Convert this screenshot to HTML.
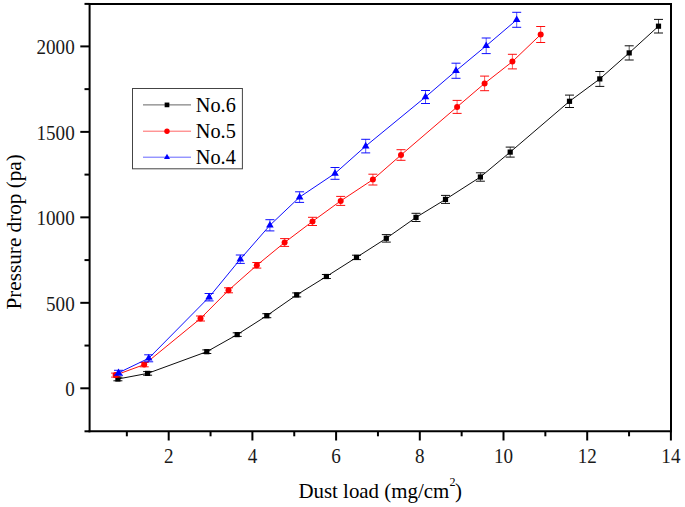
<!DOCTYPE html>
<html><head><meta charset="utf-8"><style>
html,body{margin:0;padding:0;background:#fff;}
body{width:685px;height:507px;overflow:hidden;font-family:"Liberation Serif",serif;}
svg{display:block;}
</style></head><body>
<svg width="685" height="507" viewBox="0 0 685 507">
<rect width="685" height="507" fill="#fff"/>
<g stroke="#000" stroke-width="2.0" fill="none" stroke-linecap="butt">
<line x1="89.6" y1="2.9" x2="89.6" y2="432.3"/>
<line x1="671.0" y1="2.9" x2="671.0" y2="432.3"/>
<line x1="88.6" y1="3.9" x2="672.0" y2="3.9"/>
<line x1="88.6" y1="431.3" x2="672.0" y2="431.3"/>
<line x1="84.50" y1="431.30" x2="89.6" y2="431.30"/>
<line x1="80.30" y1="388.30" x2="89.6" y2="388.30"/>
<line x1="84.50" y1="345.56" x2="89.6" y2="345.56"/>
<line x1="80.30" y1="302.83" x2="89.6" y2="302.83"/>
<line x1="84.50" y1="260.09" x2="89.6" y2="260.09"/>
<line x1="80.30" y1="217.35" x2="89.6" y2="217.35"/>
<line x1="84.50" y1="174.61" x2="89.6" y2="174.61"/>
<line x1="80.30" y1="131.88" x2="89.6" y2="131.88"/>
<line x1="84.50" y1="89.14" x2="89.6" y2="89.14"/>
<line x1="80.30" y1="46.40" x2="89.6" y2="46.40"/>
<line x1="84.50" y1="3.90" x2="89.6" y2="3.90"/>
<line x1="126.85" y1="431.3" x2="126.85" y2="436.30"/>
<line x1="168.70" y1="431.3" x2="168.70" y2="440.50"/>
<line x1="210.55" y1="431.3" x2="210.55" y2="436.30"/>
<line x1="252.40" y1="431.3" x2="252.40" y2="440.50"/>
<line x1="294.25" y1="431.3" x2="294.25" y2="436.30"/>
<line x1="336.10" y1="431.3" x2="336.10" y2="440.50"/>
<line x1="377.95" y1="431.3" x2="377.95" y2="436.30"/>
<line x1="419.80" y1="431.3" x2="419.80" y2="440.50"/>
<line x1="461.65" y1="431.3" x2="461.65" y2="436.30"/>
<line x1="503.50" y1="431.3" x2="503.50" y2="440.50"/>
<line x1="545.35" y1="431.3" x2="545.35" y2="436.30"/>
<line x1="587.20" y1="431.3" x2="587.20" y2="440.50"/>
<line x1="629.05" y1="431.3" x2="629.05" y2="436.30"/>
<line x1="670.90" y1="431.3" x2="670.90" y2="440.50"/>
</g>
<g font-family="Liberation Serif" font-size="19.9" fill="#1a1a1a">
<text transform="translate(74.7,396.20) scale(0.96,1)" text-anchor="end">0</text>
<text transform="translate(74.7,310.73) scale(0.96,1)" text-anchor="end">500</text>
<text transform="translate(74.7,225.25) scale(0.96,1)" text-anchor="end">1000</text>
<text transform="translate(74.7,139.78) scale(0.96,1)" text-anchor="end">1500</text>
<text transform="translate(74.7,54.30) scale(0.96,1)" text-anchor="end">2000</text>
<text transform="translate(168.70,462.7) scale(0.96,1)" text-anchor="middle">2</text>
<text transform="translate(252.40,462.7) scale(0.96,1)" text-anchor="middle">4</text>
<text transform="translate(336.10,462.7) scale(0.96,1)" text-anchor="middle">6</text>
<text transform="translate(419.80,462.7) scale(0.96,1)" text-anchor="middle">8</text>
<text transform="translate(503.50,462.7) scale(0.96,1)" text-anchor="middle">10</text>
<text transform="translate(587.20,462.7) scale(0.96,1)" text-anchor="middle">12</text>
<text transform="translate(670.90,462.7) scale(0.96,1)" text-anchor="middle">14</text>
</g>
<g font-family="Liberation Serif" font-size="21.2" fill="#000">
<text transform="translate(21.1,309.5) rotate(-90)">Pressure drop (pa)</text>
<text x="298.4" y="497.7" font-size="20.9">Dust load (mg/cm<tspan font-size="12" dy="-12.1" dx="0.3">2</tspan><tspan dy="12.1" dx="-0.5">)</tspan></text>
</g>
<path d="M117.9,379.0 L147.6,373.4 L206.8,351.7 L237.2,334.6 L266.8,315.7 L296.7,294.9 L326.4,276.5 L356.5,257.4 L386.3,238.3 L416.0,217.4 L445.5,199.4 L480.4,177.0 L510.2,152.1 L569.5,101.3 L599.8,78.9 L629.2,52.9 L658.5,26.2" fill="none" stroke="#000" stroke-width="0.95"/>
<g stroke="#000" stroke-width="0.95">
<line x1="117.9" y1="377.2" x2="117.9" y2="380.8" stroke-opacity="0.7"/>
<line x1="113.4" y1="377.2" x2="122.4" y2="377.2"/>
<line x1="113.4" y1="380.8" x2="122.4" y2="380.8"/>
<line x1="147.6" y1="371.6" x2="147.6" y2="375.2" stroke-opacity="0.7"/>
<line x1="143.1" y1="371.6" x2="152.1" y2="371.6"/>
<line x1="143.1" y1="375.2" x2="152.1" y2="375.2"/>
<line x1="206.8" y1="349.9" x2="206.8" y2="353.5" stroke-opacity="0.7"/>
<line x1="202.3" y1="349.9" x2="211.3" y2="349.9"/>
<line x1="202.3" y1="353.5" x2="211.3" y2="353.5"/>
<line x1="237.2" y1="332.8" x2="237.2" y2="336.4" stroke-opacity="0.7"/>
<line x1="232.7" y1="332.8" x2="241.7" y2="332.8"/>
<line x1="232.7" y1="336.4" x2="241.7" y2="336.4"/>
<line x1="266.8" y1="313.7" x2="266.8" y2="317.7" stroke-opacity="0.7"/>
<line x1="262.3" y1="313.7" x2="271.3" y2="313.7"/>
<line x1="262.3" y1="317.7" x2="271.3" y2="317.7"/>
<line x1="296.7" y1="292.9" x2="296.7" y2="296.9" stroke-opacity="0.7"/>
<line x1="292.2" y1="292.9" x2="301.2" y2="292.9"/>
<line x1="292.2" y1="296.9" x2="301.2" y2="296.9"/>
<line x1="326.4" y1="274.5" x2="326.4" y2="278.5" stroke-opacity="0.7"/>
<line x1="321.9" y1="274.5" x2="330.9" y2="274.5"/>
<line x1="321.9" y1="278.5" x2="330.9" y2="278.5"/>
<line x1="356.5" y1="255.2" x2="356.5" y2="259.6" stroke-opacity="0.7"/>
<line x1="352.0" y1="255.2" x2="361.0" y2="255.2"/>
<line x1="352.0" y1="259.6" x2="361.0" y2="259.6"/>
<line x1="386.3" y1="234.6" x2="386.3" y2="242.1" stroke-opacity="0.7"/>
<line x1="381.8" y1="234.6" x2="390.8" y2="234.6"/>
<line x1="381.8" y1="242.1" x2="390.8" y2="242.1"/>
<line x1="416.0" y1="213.3" x2="416.0" y2="221.5" stroke-opacity="0.7"/>
<line x1="411.5" y1="213.3" x2="420.5" y2="213.3"/>
<line x1="411.5" y1="221.5" x2="420.5" y2="221.5"/>
<line x1="445.5" y1="195.4" x2="445.5" y2="203.4" stroke-opacity="0.7"/>
<line x1="441.0" y1="195.4" x2="450.0" y2="195.4"/>
<line x1="441.0" y1="203.4" x2="450.0" y2="203.4"/>
<line x1="480.4" y1="172.8" x2="480.4" y2="181.2" stroke-opacity="0.7"/>
<line x1="475.9" y1="172.8" x2="484.9" y2="172.8"/>
<line x1="475.9" y1="181.2" x2="484.9" y2="181.2"/>
<line x1="510.2" y1="147.1" x2="510.2" y2="157.1" stroke-opacity="0.7"/>
<line x1="505.7" y1="147.1" x2="514.7" y2="147.1"/>
<line x1="505.7" y1="157.1" x2="514.7" y2="157.1"/>
<line x1="569.5" y1="95.1" x2="569.5" y2="107.5" stroke-opacity="0.7"/>
<line x1="565.0" y1="95.1" x2="574.0" y2="95.1"/>
<line x1="565.0" y1="107.5" x2="574.0" y2="107.5"/>
<line x1="599.8" y1="71.5" x2="599.8" y2="86.4" stroke-opacity="0.7"/>
<line x1="595.3" y1="71.5" x2="604.3" y2="71.5"/>
<line x1="595.3" y1="86.4" x2="604.3" y2="86.4"/>
<line x1="629.2" y1="45.8" x2="629.2" y2="60.0" stroke-opacity="0.7"/>
<line x1="624.7" y1="45.8" x2="633.7" y2="45.8"/>
<line x1="624.7" y1="60.0" x2="633.7" y2="60.0"/>
<line x1="658.5" y1="19.4" x2="658.5" y2="33.0" stroke-opacity="0.7"/>
<line x1="654.0" y1="19.4" x2="663.0" y2="19.4"/>
<line x1="654.0" y1="33.0" x2="663.0" y2="33.0"/>
</g>
<g fill="#000">
<rect x="115.3" y="376.4" width="5.2" height="5.2"/>
<rect x="145.0" y="370.8" width="5.2" height="5.2"/>
<rect x="204.2" y="349.1" width="5.2" height="5.2"/>
<rect x="234.6" y="332.0" width="5.2" height="5.2"/>
<rect x="264.2" y="313.1" width="5.2" height="5.2"/>
<rect x="294.1" y="292.3" width="5.2" height="5.2"/>
<rect x="323.8" y="273.9" width="5.2" height="5.2"/>
<rect x="353.9" y="254.8" width="5.2" height="5.2"/>
<rect x="383.7" y="235.7" width="5.2" height="5.2"/>
<rect x="413.4" y="214.8" width="5.2" height="5.2"/>
<rect x="442.9" y="196.8" width="5.2" height="5.2"/>
<rect x="477.8" y="174.4" width="5.2" height="5.2"/>
<rect x="507.6" y="149.5" width="5.2" height="5.2"/>
<rect x="566.9" y="98.7" width="5.2" height="5.2"/>
<rect x="597.2" y="76.3" width="5.2" height="5.2"/>
<rect x="626.6" y="50.3" width="5.2" height="5.2"/>
<rect x="655.9" y="23.6" width="5.2" height="5.2"/>
</g>
<path d="M115.6,375.1 L144.2,364.6 L200.5,318.5 L228.5,290.3 L256.8,265.3 L284.6,242.5 L312.5,221.4 L340.7,200.9 L372.9,179.6 L401.0,155.0 L457.1,106.9 L484.6,83.4 L512.4,61.6 L540.7,34.5" fill="none" stroke="#f00" stroke-width="0.95"/>
<g stroke="#f00" stroke-width="0.95">
<line x1="115.6" y1="373.1" x2="115.6" y2="377.1" stroke-opacity="0.7"/>
<line x1="111.1" y1="373.1" x2="120.1" y2="373.1"/>
<line x1="111.1" y1="377.1" x2="120.1" y2="377.1"/>
<line x1="144.2" y1="362.4" x2="144.2" y2="366.8" stroke-opacity="0.7"/>
<line x1="139.7" y1="362.4" x2="148.7" y2="362.4"/>
<line x1="139.7" y1="366.8" x2="148.7" y2="366.8"/>
<line x1="200.5" y1="316.0" x2="200.5" y2="321.0" stroke-opacity="0.7"/>
<line x1="196.0" y1="316.0" x2="205.0" y2="316.0"/>
<line x1="196.0" y1="321.0" x2="205.0" y2="321.0"/>
<line x1="228.5" y1="287.8" x2="228.5" y2="292.8" stroke-opacity="0.7"/>
<line x1="224.0" y1="287.8" x2="233.0" y2="287.8"/>
<line x1="224.0" y1="292.8" x2="233.0" y2="292.8"/>
<line x1="256.8" y1="262.5" x2="256.8" y2="268.1" stroke-opacity="0.7"/>
<line x1="252.3" y1="262.5" x2="261.3" y2="262.5"/>
<line x1="252.3" y1="268.1" x2="261.3" y2="268.1"/>
<line x1="284.6" y1="238.6" x2="284.6" y2="246.4" stroke-opacity="0.7"/>
<line x1="280.1" y1="238.6" x2="289.1" y2="238.6"/>
<line x1="280.1" y1="246.4" x2="289.1" y2="246.4"/>
<line x1="312.5" y1="217.3" x2="312.5" y2="225.5" stroke-opacity="0.7"/>
<line x1="308.0" y1="217.3" x2="317.0" y2="217.3"/>
<line x1="308.0" y1="225.5" x2="317.0" y2="225.5"/>
<line x1="340.7" y1="196.4" x2="340.7" y2="205.4" stroke-opacity="0.7"/>
<line x1="336.2" y1="196.4" x2="345.2" y2="196.4"/>
<line x1="336.2" y1="205.4" x2="345.2" y2="205.4"/>
<line x1="372.9" y1="174.2" x2="372.9" y2="185.0" stroke-opacity="0.7"/>
<line x1="368.4" y1="174.2" x2="377.4" y2="174.2"/>
<line x1="368.4" y1="185.0" x2="377.4" y2="185.0"/>
<line x1="401.0" y1="149.7" x2="401.0" y2="160.3" stroke-opacity="0.7"/>
<line x1="396.5" y1="149.7" x2="405.5" y2="149.7"/>
<line x1="396.5" y1="160.3" x2="405.5" y2="160.3"/>
<line x1="457.1" y1="100.4" x2="457.1" y2="113.4" stroke-opacity="0.7"/>
<line x1="452.6" y1="100.4" x2="461.6" y2="100.4"/>
<line x1="452.6" y1="113.4" x2="461.6" y2="113.4"/>
<line x1="484.6" y1="76.1" x2="484.6" y2="90.7" stroke-opacity="0.7"/>
<line x1="480.1" y1="76.1" x2="489.1" y2="76.1"/>
<line x1="480.1" y1="90.7" x2="489.1" y2="90.7"/>
<line x1="512.4" y1="54.3" x2="512.4" y2="68.9" stroke-opacity="0.7"/>
<line x1="507.9" y1="54.3" x2="516.9" y2="54.3"/>
<line x1="507.9" y1="68.9" x2="516.9" y2="68.9"/>
<line x1="540.7" y1="26.5" x2="540.7" y2="42.5" stroke-opacity="0.7"/>
<line x1="536.2" y1="26.5" x2="545.2" y2="26.5"/>
<line x1="536.2" y1="42.5" x2="545.2" y2="42.5"/>
</g>
<g fill="#f00">
<circle cx="115.6" cy="375.1" r="3.0"/>
<circle cx="144.2" cy="364.6" r="3.0"/>
<circle cx="200.5" cy="318.5" r="3.0"/>
<circle cx="228.5" cy="290.3" r="3.0"/>
<circle cx="256.8" cy="265.3" r="3.0"/>
<circle cx="284.6" cy="242.5" r="3.0"/>
<circle cx="312.5" cy="221.4" r="3.0"/>
<circle cx="340.7" cy="200.9" r="3.0"/>
<circle cx="372.9" cy="179.6" r="3.0"/>
<circle cx="401.0" cy="155.0" r="3.0"/>
<circle cx="457.1" cy="106.9" r="3.0"/>
<circle cx="484.6" cy="83.4" r="3.0"/>
<circle cx="512.4" cy="61.6" r="3.0"/>
<circle cx="540.7" cy="34.5" r="3.0"/>
</g>
<path d="M118.5,372.8 L148.7,358.3 L209.1,297.2 L240.3,259.2 L269.9,225.3 L299.6,197.1 L335.0,173.4 L365.7,146.1 L425.5,97.0 L456.0,70.8 L486.2,45.8 L516.7,19.8" fill="none" stroke="#00f" stroke-width="0.95"/>
<g stroke="#00f" stroke-width="0.95">
<line x1="118.5" y1="370.3" x2="118.5" y2="375.3" stroke-opacity="0.7"/>
<line x1="114.0" y1="370.3" x2="123.0" y2="370.3"/>
<line x1="114.0" y1="375.3" x2="123.0" y2="375.3"/>
<line x1="148.7" y1="354.8" x2="148.7" y2="361.8" stroke-opacity="0.7"/>
<line x1="144.2" y1="354.8" x2="153.2" y2="354.8"/>
<line x1="144.2" y1="361.8" x2="153.2" y2="361.8"/>
<line x1="209.1" y1="293.5" x2="209.1" y2="300.9" stroke-opacity="0.7"/>
<line x1="204.6" y1="293.5" x2="213.6" y2="293.5"/>
<line x1="204.6" y1="300.9" x2="213.6" y2="300.9"/>
<line x1="240.3" y1="255.0" x2="240.3" y2="263.4" stroke-opacity="0.7"/>
<line x1="235.8" y1="255.0" x2="244.8" y2="255.0"/>
<line x1="235.8" y1="263.4" x2="244.8" y2="263.4"/>
<line x1="269.9" y1="219.7" x2="269.9" y2="230.9" stroke-opacity="0.7"/>
<line x1="265.4" y1="219.7" x2="274.4" y2="219.7"/>
<line x1="265.4" y1="230.9" x2="274.4" y2="230.9"/>
<line x1="299.6" y1="191.8" x2="299.6" y2="202.4" stroke-opacity="0.7"/>
<line x1="295.1" y1="191.8" x2="304.1" y2="191.8"/>
<line x1="295.1" y1="202.4" x2="304.1" y2="202.4"/>
<line x1="335.0" y1="167.5" x2="335.0" y2="179.3" stroke-opacity="0.7"/>
<line x1="330.5" y1="167.5" x2="339.5" y2="167.5"/>
<line x1="330.5" y1="179.3" x2="339.5" y2="179.3"/>
<line x1="365.7" y1="139.3" x2="365.7" y2="152.9" stroke-opacity="0.7"/>
<line x1="361.2" y1="139.3" x2="370.2" y2="139.3"/>
<line x1="361.2" y1="152.9" x2="370.2" y2="152.9"/>
<line x1="425.5" y1="90.5" x2="425.5" y2="103.5" stroke-opacity="0.7"/>
<line x1="421.0" y1="90.5" x2="430.0" y2="90.5"/>
<line x1="421.0" y1="103.5" x2="430.0" y2="103.5"/>
<line x1="456.0" y1="63.2" x2="456.0" y2="78.3" stroke-opacity="0.7"/>
<line x1="451.5" y1="63.2" x2="460.5" y2="63.2"/>
<line x1="451.5" y1="78.3" x2="460.5" y2="78.3"/>
<line x1="486.2" y1="38.0" x2="486.2" y2="53.6" stroke-opacity="0.7"/>
<line x1="481.7" y1="38.0" x2="490.7" y2="38.0"/>
<line x1="481.7" y1="53.6" x2="490.7" y2="53.6"/>
<line x1="516.7" y1="12.3" x2="516.7" y2="27.3" stroke-opacity="0.7"/>
<line x1="512.2" y1="12.3" x2="521.2" y2="12.3"/>
<line x1="512.2" y1="27.3" x2="521.2" y2="27.3"/>
</g>
<g fill="#00f">
<path d="M118.5,368.4 L122.3,375.1 L114.7,375.1Z"/>
<path d="M148.7,353.9 L152.5,360.6 L144.9,360.6Z"/>
<path d="M209.1,292.8 L212.9,299.5 L205.3,299.5Z"/>
<path d="M240.3,254.8 L244.1,261.5 L236.5,261.5Z"/>
<path d="M269.9,220.9 L273.7,227.6 L266.1,227.6Z"/>
<path d="M299.6,192.7 L303.4,199.4 L295.8,199.4Z"/>
<path d="M335.0,169.0 L338.8,175.7 L331.2,175.7Z"/>
<path d="M365.7,141.7 L369.5,148.4 L361.9,148.4Z"/>
<path d="M425.5,92.6 L429.3,99.3 L421.7,99.3Z"/>
<path d="M456.0,66.3 L459.8,73.0 L452.2,73.0Z"/>
<path d="M486.2,41.4 L490.0,48.1 L482.4,48.1Z"/>
<path d="M516.7,15.4 L520.5,22.1 L512.9,22.1Z"/>
</g>
<rect x="132.5" y="88.5" width="109.9" height="80.3" fill="#fff" stroke="#444" stroke-width="1"/>
<line x1="143" y1="104.9" x2="191" y2="104.9" stroke="#000" stroke-width="1" opacity="0.6"/>
<g fill="#000"><rect x="164.65" y="102.55" width="4.7" height="4.7"/></g>
<text x="195.8" y="111.5" font-family="Liberation Serif" font-size="20.3">No.6</text>
<line x1="143" y1="131.2" x2="191" y2="131.2" stroke="#f00" stroke-width="1" opacity="0.6"/>
<g fill="#f00"><circle cx="167.0" cy="131.2" r="2.7"/></g>
<text x="195.8" y="137.7" font-family="Liberation Serif" font-size="20.3">No.5</text>
<line x1="143" y1="157.2" x2="191" y2="157.2" stroke="#00f" stroke-width="1" opacity="0.6"/>
<g fill="#00f"><path d="M167.0,153.8 L170.0,159.0 L164.0,159.0Z"/></g>
<text x="195.8" y="163.5" font-family="Liberation Serif" font-size="20.3">No.4</text>
</svg>
</body></html>
